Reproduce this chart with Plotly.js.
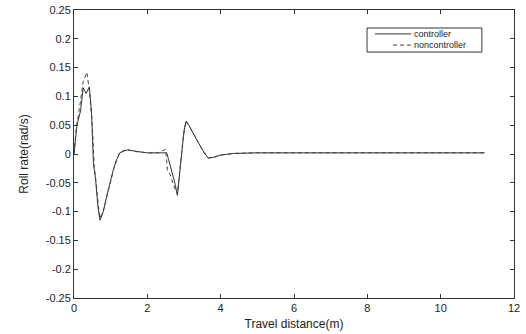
<!DOCTYPE html>
<html><head><meta charset="utf-8">
<script src="https://cdn.plot.ly/plotly-3.0.1.min.js"></script>
<style>body{margin:0;background:#fff}#c{width:526px;height:334px}</style>
</head><body><div id="c"></div>
<script>
var xCtrl = [0, 0.08, 0.18, 0.25, 0.33, 0.42, 0.48, 0.53, 0.59, 0.65, 0.71, 0.8, 0.89, 0.98, 1.07, 1.16, 1.25, 1.44, 1.71, 2.0, 2.3, 2.53, 2.58, 2.66, 2.75, 2.82, 2.88, 2.94, 3.0, 3.05, 3.15, 3.25, 3.35, 3.44, 3.55, 3.66, 3.8, 3.98, 4.35, 5.0, 6.0, 7.0, 8.0, 9.0, 10.0, 11.2];
var yCtrl = [0, 0.05, 0.075, 0.115, 0.105, 0.116, 0.07, -0.016, -0.045, -0.09, -0.115, -0.1, -0.074, -0.05, -0.028, -0.01, 0.002, 0.007, 0.004, 0.002, 0.002, 0.002, -0.01, -0.028, -0.05, -0.072, -0.03, 0.007, 0.04, 0.056, 0.048, 0.036, 0.024, 0.013, 0.002, -0.007, -0.006, -0.002, 0.001, 0.002, 0.002, 0.002, 0.002, 0.002, 0.002, 0.002];
var xNon = [0, 0.06, 0.15, 0.25, 0.35, 0.42, 0.5, 0.55, 0.62, 0.7, 0.8, 0.9, 1.0, 1.1, 1.25, 1.44, 1.71, 2.0, 2.3, 2.5, 2.55, 2.62, 2.72, 2.82, 2.9, 2.98, 3.06, 3.2, 3.32, 3.44, 3.55, 3.66, 3.8, 3.98, 4.4, 5.0, 6.0, 7.0, 8.0, 9.0, 10.0, 11.2];
var yNon = [0, 0.045, 0.08, 0.125, 0.142, 0.11, 0.05, -0.02, -0.06, -0.112, -0.098, -0.072, -0.045, -0.022, 0.003, 0.008, 0.004, 0.002, 0.002, 0.008, -0.03, -0.035, -0.055, -0.07, -0.02, 0.03, 0.058, 0.042, 0.026, 0.014, 0.003, -0.007, -0.006, -0.002, 0.001, 0.002, 0.002, 0.002, 0.002, 0.002, 0.002, 0.002];
var xTicks = [0, 2, 4, 6, 8, 10, 12];
var yTicks = [0.25, 0.2, 0.15, 0.1, 0.05, 0, -0.05, -0.1, -0.15, -0.2, -0.25];
var yTickText = ['0.25', '0.2', '0.15', '0.1', '0.05', '0', '-0.05', '-0.1', '-0.15', '-0.2', '-0.25'];
var seriesNames = ['controller', 'noncontroller'];

var font = {family: 'Liberation Sans, Arial, sans-serif', color: '#222'};
var data = [
  {x: xCtrl, y: yCtrl, type: 'scatter', mode: 'lines', name: seriesNames[0],
   line: {color: '#333', width: 1, dash: 'solid'}},
  {x: xNon, y: yNon, type: 'scatter', mode: 'lines', name: seriesNames[1],
   line: {color: '#444', width: 1, dash: '4px,3px'}}
];
// compact legend drawn in paper coordinates
var shapes = [
  {type: 'rect', xref: 'paper', yref: 'paper', x0: 0.666, x1: 0.927, y0: 0.854, y1: 0.9375,
   line: {color: '#333', width: 1}, fillcolor: '#fff', layer: 'above'},
  {type: 'line', xref: 'paper', yref: 'paper', x0: 0.684, x1: 0.766, y0: 0.917, y1: 0.917,
   line: {color: '#333', width: 1}},
  {type: 'line', xref: 'paper', yref: 'paper', x0: 0.725, x1: 0.766, y0: 0.878, y1: 0.878,
   line: {color: '#444', width: 1, dash: '4px,3px'}}
];
var annotations = [
  {xref: 'paper', yref: 'paper', x: 0.768, y: 0.917, xanchor: 'left', yanchor: 'middle',
   text: seriesNames[0], showarrow: false, font: Object.assign({size: 9}, font)},
  {xref: 'paper', yref: 'paper', x: 0.768, y: 0.878, xanchor: 'left', yanchor: 'middle',
   text: seriesNames[1], showarrow: false, font: Object.assign({size: 9}, font)}
];
var layout = {
  width: 526, height: 334,
  margin: {l: 74, r: 12, t: 10, b: 36},
  paper_bgcolor: '#fff', plot_bgcolor: '#fff',
  font: Object.assign({size: 11}, font),
  showlegend: false,
  shapes: shapes, annotations: annotations,
  xaxis: {range: [0, 12], tickvals: xTicks, ticks: 'inside', ticklen: 4,
          tickcolor: '#333', showline: true, linecolor: '#333', linewidth: 1,
          mirror: 'ticks', showgrid: false, zeroline: false,
          tickfont: Object.assign({size: 11}, font),
          title: {text: 'Travel distance(m)', font: Object.assign({size: 12}, font), standoff: 6}},
  yaxis: {range: [-0.25, 0.25], tickvals: yTicks, ticktext: yTickText,
          ticks: 'inside', ticklen: 4, tickcolor: '#333', showline: true,
          linecolor: '#333', linewidth: 1, mirror: 'ticks', showgrid: false,
          zeroline: false, tickfont: Object.assign({size: 11}, font),
          title: {text: 'Roll rate(rad/s)', font: Object.assign({size: 12}, font), standoff: 14}}
};
Plotly.newPlot('c', data, layout, {displayModeBar: false, staticPlot: true});
</script></body></html>
